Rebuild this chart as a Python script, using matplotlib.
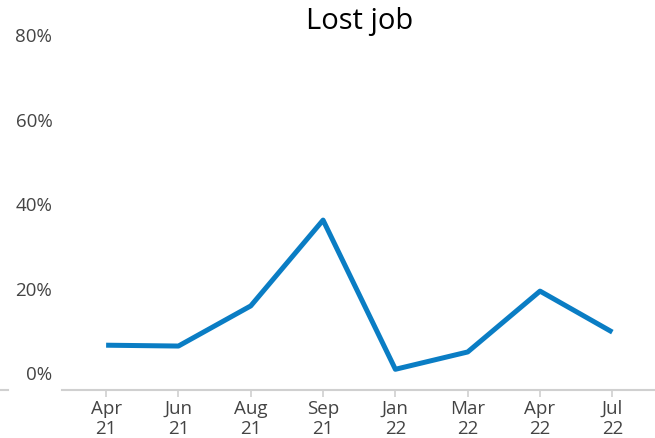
import matplotlib
matplotlib.use("Agg")
import matplotlib.pyplot as plt
from matplotlib.lines import Line2D

# Data
months = ["Apr\n21", "Jun\n21", "Aug\n21", "Sep\n21", "Jan\n22", "Mar\n22", "Apr\n22", "Jul\n22"]
lost_job = [6.6, 6.4, 15.9, 36.2, 0.9, 5.0, 19.4, 9.7]
y_ticks = [0, 20, 40, 60, 80]
y_labels = ["0%", "20%", "40%", "60%", "80%"]

plt.rcParams['font.family'] = ['Open Sans', 'DejaVu Sans']

fig = plt.figure(figsize=(6.55, 4.38), dpi=100)
ax = fig.add_axes([62 / 655, 1 - 390 / 438, 1 - 62 / 655, (390 - 35) / 438])

x = list(range(len(months)))
ax.plot(x, lost_job, color="#0A7DC4", linewidth=3.6, solid_capstyle="butt")

ax.set_xlim(-0.61, 7.59)
ax.set_ylim(-4, 80)

for s in ["top", "right", "left"]:
    ax.spines[s].set_visible(False)
ax.spines["bottom"].set_color("#d0d0d0")
ax.spines["bottom"].set_linewidth(1.5)

ax.set_xticks(x)
ax.set_xticklabels(months, fontsize=13.5, color="#444444", linespacing=1.15)
ax.tick_params(axis="x", length=5, width=1.2, color="#d0d0d0", pad=2)

ax.set_yticks(y_ticks)
ax.set_yticklabels(y_labels, fontsize=13.5, color="#444444")
ax.tick_params(axis="y", length=0, pad=7)

# small stub of the baseline at the far left
fig.add_artist(Line2D([0, 8 / 655], [1 - 390 / 438, 1 - 390 / 438],
                      color="#d0d0d0", linewidth=1.5))

fig.text(360 / 655, 1 - 22 / 438, "Lost job", ha="center", va="center",
         fontsize=21, color="black", fontweight="medium")

fig.savefig("out.png", dpi=100)
